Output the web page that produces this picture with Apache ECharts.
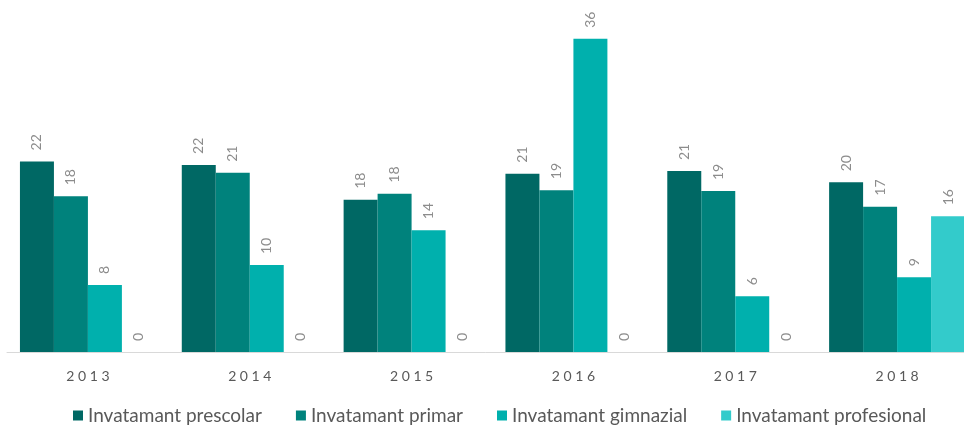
<!DOCTYPE html>
<html>
<head>
<meta charset="utf-8">
<script src="https://cdn.jsdelivr.net/npm/echarts@6/dist/echarts.min.js"></script>
<style>
html,body{margin:0;padding:0;background:#fff;}
#chart{width:964px;height:425px;}
</style>
</head>
<body>
<div id="chart"></div>
<script>
const categories = ['2013', '2014', '2015', '2016', '2017', '2018'];
const seriesNames = ['Invatamant prescolar', 'Invatamant primar', 'Invatamant gimnazial', 'Invatamant profesional'];
const prescolar = [21.9, 21.5, 17.5, 20.5, 20.8, 19.5];
const primar = [17.9, 20.6, 18.2, 18.6, 18.5, 16.7];
const gimnazial = [7.7, 10.0, 14.0, 36.0, 6.4, 8.6];
const profesional = [0, 0, 0, 0, 0, 15.6];
const colors = ['#006864', '#00827c', '#00b0ad', '#33cbcb'];

const values = [prescolar, primar, gimnazial, profesional];
const chart = echarts.init(document.getElementById('chart'));
const FONT = 'Lato';
chart.setOption({
  animation: false,
  textStyle: { fontFamily: FONT },
  grid: { left: 7, right: -14, top: 4, bottom: 73, containLabel: false, outerBoundsMode: 'none' },
  legend: {
    bottom: -5,
    left: 68,
    itemWidth: 10,
    itemHeight: 10,
    itemGap: 34,
    icon: 'rect',
    textStyle: { fontFamily: FONT, fontSize: 19, color: '#595959' },
    data: seriesNames
  },
  xAxis: {
    type: 'category',
    data: categories,
    axisLine: { lineStyle: { color: '#d9d9d9', width: 1 } },
    axisTick: { show: false },
    axisLabel: {
      margin: 17,
      fontSize: 14,
      color: '#595959',
      fontFamily: FONT,
      formatter: v => v.split('').join(' ')
    }
  },
  yAxis: {
    type: 'value',
    min: 0,
    max: 40,
    show: false,
    splitLine: { show: false }
  },
  series: values.map((arr, i) => ({
    name: seriesNames[i],
    type: 'bar',
    data: arr,
    barGap: '0%',
    barCategoryGap: '16%',
    itemStyle: { color: colors[i] },
    label: {
      show: true,
      position: 'top',
      rotate: 90,
      align: 'left',
      verticalAlign: 'middle',
      distance: 11,
      fontSize: 14,
      color: '#8c8c8c',
      fontFamily: FONT,
      formatter: p => String(Math.round(p.value))
    }
  }))
});
</script>
</body>
</html>
